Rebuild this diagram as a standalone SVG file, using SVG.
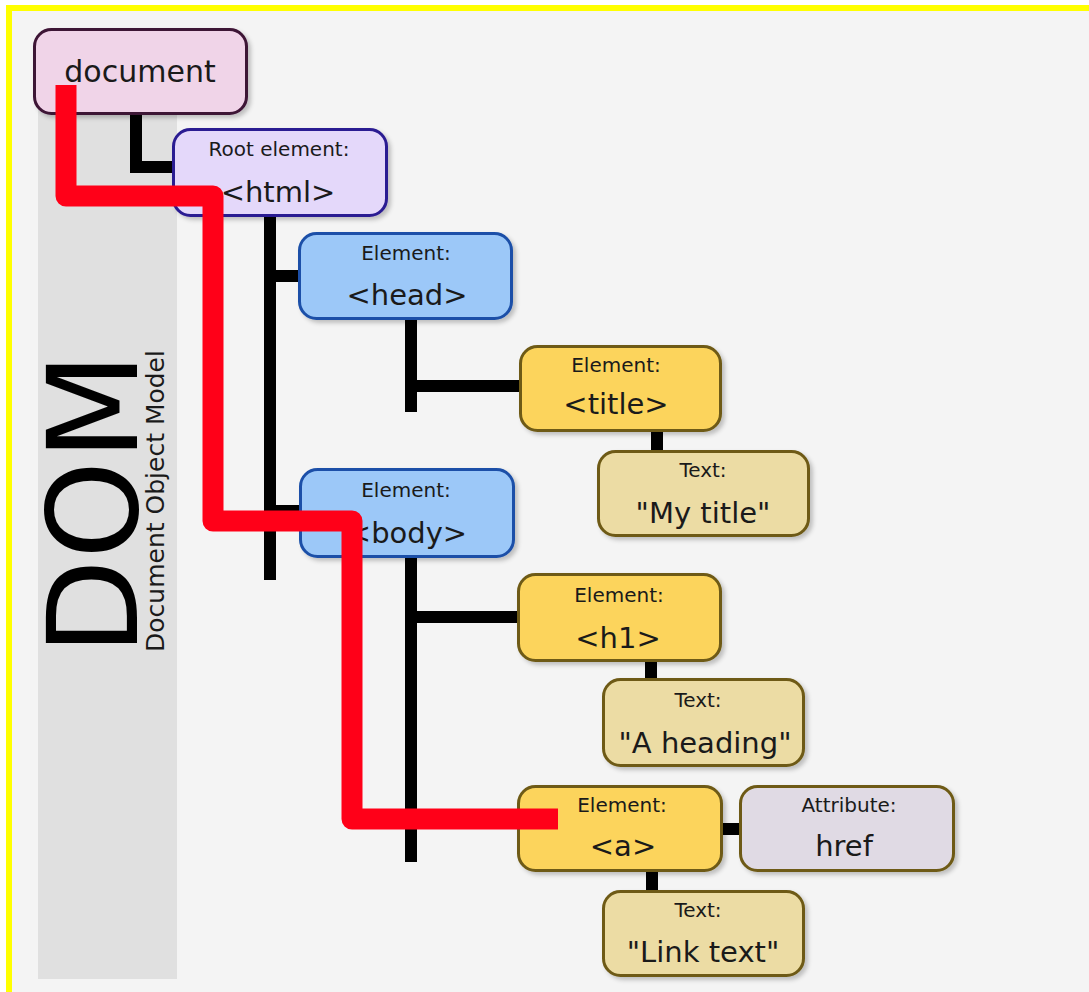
<svg xmlns="http://www.w3.org/2000/svg" width="1089" height="992" viewBox="0 0 1089 992">
<defs>
<filter id="sh" x="-10%" y="-10%" width="130%" height="130%">
<feDropShadow dx="3" dy="3" stdDeviation="2" flood-color="#000" flood-opacity="0.22"/>
</filter>
<style>
text{font-family:"DejaVu Sans","Liberation Sans",sans-serif;fill:#1a1a1a;text-anchor:middle}
.lbl{font-size:20px}
.big{font-size:29px}
.box{stroke-width:3;filter:url(#sh)}
.doc{fill:#f0d4e8;stroke:#3e1236}
.root{fill:#e4d8fa;stroke:#2c1a92}
.blue{fill:#9cc8f8;stroke:#1b50a8}
.yel{fill:#fcd45c;stroke:#6e5a14}
.txt{fill:#ecdca4;stroke:#6e5a14}
.attr{fill:#e0dae4;stroke:#6e5a14}
.con{fill:none;stroke:#000;stroke-width:12}
</style>
</defs>
<rect x="0" y="0" width="1089" height="992" fill="#ffffff"/>
<rect x="9" y="8" width="1200" height="1100" fill="#f4f4f4" stroke="#ffff00" stroke-width="6"/>
<g id="dom-band">
<rect x="38" y="100" width="139" height="879" fill="#e0e0e0"/>
<text transform="translate(137,504) rotate(-90)" font-size="125" style="fill:#000">DOM</text>
<text transform="translate(164,501) rotate(-90)" font-size="25">Document Object Model</text>
</g>
<g id="connectors">
<path class="con" d="M136,113 V167 H174"/>
<path class="con" d="M270,216 V580"/>
<path class="con" d="M270,276 H300"/>
<path class="con" d="M270,511 H302"/>
<path class="con" d="M411,319 V412"/>
<path class="con" d="M411,386 H521"/>
<path class="con" d="M657,431 V452"/>
<path class="con" d="M411,557 V862"/>
<path class="con" d="M411,617 H519"/>
<path class="con" d="M411,819 H519"/>
<path class="con" d="M651,660 V680"/>
<path class="con" d="M720,829 H742"/>
<path class="con" d="M652,870 V892"/>
</g>
<g id="document">
<rect class="box doc" x="34.5" y="29.5" width="212" height="84" rx="17"/>
<text x="140" y="82" font-size="30">document</text>
</g>
<g id="html">
<rect class="box root" x="173.5" y="129.5" width="213" height="86" rx="17"/>
<text class="lbl" x="279" y="156">Root element:</text>
<text class="big" x="278" y="202">&lt;html&gt;</text>
</g>
<g id="head">
<rect class="box blue" x="299.5" y="233.5" width="212" height="85" rx="17"/>
<text class="lbl" x="406" y="260">Element:</text>
<text class="big" x="407" y="305">&lt;head&gt;</text>
</g>
<g id="title">
<rect class="box yel" x="520.5" y="346.5" width="200" height="84" rx="17"/>
<text class="lbl" x="616" y="372">Element:</text>
<text class="big" x="616" y="414">&lt;title&gt;</text>
</g>
<g id="text-mytitle">
<rect class="box txt" x="598.5" y="451.5" width="210" height="84" rx="17"/>
<text class="lbl" x="703" y="477">Text:</text>
<text class="big" x="703" y="523">"My title"</text>
</g>
<g id="body">
<rect class="box blue" x="300.5" y="469.5" width="213" height="87" rx="17"/>
<text class="lbl" x="406" y="497">Element:</text>
<text class="big" x="407" y="543">&lt;body&gt;</text>
</g>
<g id="h1">
<rect class="box yel" x="518.5" y="574.5" width="202" height="86" rx="17"/>
<text class="lbl" x="619" y="602">Element:</text>
<text class="big" x="618" y="648">&lt;h1&gt;</text>
</g>
<g id="text-heading">
<rect class="box txt" x="603.5" y="679.5" width="200" height="86" rx="17"/>
<text class="lbl" x="698" y="707">Text:</text>
<text class="big" x="705" y="753">"A heading"</text>
</g>
<g id="a">
<rect class="box yel" x="518.5" y="786.5" width="203" height="84" rx="17"/>
<text class="lbl" x="622" y="812">Element:</text>
<text class="big" x="623" y="856">&lt;a&gt;</text>
</g>
<g id="attr-href">
<rect class="box attr" x="740.5" y="786.5" width="213" height="84" rx="17"/>
<text class="lbl" x="849" y="812">Attribute:</text>
<text class="big" x="844" y="856">href</text>
</g>
<g id="text-link">
<rect class="box txt" x="603.5" y="891.5" width="200" height="84" rx="17"/>
<text class="lbl" x="698" y="917">Text:</text>
<text class="big" x="703" y="962">"Link text"</text>
</g>
<g id="red-path">
<path d="M66,85 V196 H213 V521 H352 V819 H558" fill="none" stroke="#ff0018" stroke-width="21" stroke-linejoin="round"/>
</g>
</svg>
